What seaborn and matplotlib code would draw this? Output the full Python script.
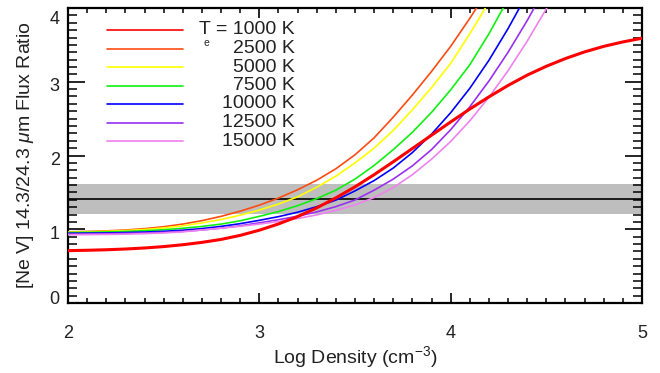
import numpy as np
import pandas as pd
import matplotlib
matplotlib.use("Agg")
import matplotlib.pyplot as plt
import matplotlib.image as mimg
import matplotlib.transforms as mtrans
from matplotlib.ticker import MultipleLocator, FixedLocator
import seaborn as sns

# ---------------- data ----------------
log_density = [2.0, 2.1, 2.2, 2.3, 2.4, 2.5, 2.6, 2.7, 2.8, 2.9, 3.0, 3.1, 3.2, 3.3, 3.4,
               3.5, 3.6, 3.7, 3.8, 3.9, 4.0, 4.1, 4.2, 4.3, 4.4, 4.5, 4.6, 4.7, 4.8, 4.9, 5.0]

temps = ["1000", "2500", "5000", "7500", "10000", "12500", "15000"]

ratio_1000 = [0.71, 0.715, 0.722, 0.732, 0.746, 0.765, 0.790, 0.822, 0.862, 0.917, 0.987,
              1.072, 1.172, 1.29, 1.425, 1.575, 1.74, 1.915, 2.095, 2.275, 2.455, 2.63,
              2.795, 2.95, 3.09, 3.21, 3.315, 3.405, 3.48, 3.54, 3.59]
ratio_2500 = [0.965, 0.970, 0.978, 0.990, 1.008, 1.034, 1.070, 1.117, 1.175, 1.245, 1.327,
              1.423, 1.535, 1.665, 1.82, 2.01, 2.24, 2.52, 2.82, 3.14, 3.48, 3.86, 4.26]
ratio_5000 = [0.96, 0.965, 0.972, 0.982, 0.997, 1.018, 1.047, 1.085, 1.133, 1.191, 1.260,
              1.342, 1.439, 1.57, 1.72, 1.90, 2.10, 2.34, 2.62, 2.92, 3.25, 3.65, 4.08, 4.55]
ratio_7500 = [0.955, 0.958, 0.963, 0.970, 0.980, 0.994, 1.013, 1.038, 1.070, 1.115, 1.175,
              1.240, 1.32, 1.415, 1.53, 1.68, 1.865, 2.08, 2.315, 2.585, 2.89, 3.23, 3.65, 4.12]
ratio_10000 = [0.945, 0.947, 0.950, 0.955, 0.962, 0.972, 0.987, 1.009, 1.039, 1.076, 1.121,
               1.171, 1.231, 1.306, 1.395, 1.52, 1.66, 1.83, 2.04, 2.29, 2.58, 2.911, 3.291,
               3.721, 4.191]
ratio_12500 = [0.935, 0.937, 0.940, 0.944, 0.950, 0.958, 0.971, 0.990, 1.015, 1.047, 1.087,
               1.129, 1.177, 1.235, 1.307, 1.397, 1.53, 1.68, 1.86, 2.08, 2.35, 2.66, 3.01,
               3.40, 3.83, 4.30]
ratio_15000 = [0.925, 0.927, 0.93, 0.934, 0.94, 0.95, 0.965, 0.99, 1.015, 1.04, 1.07, 1.105,
               1.145, 1.195, 1.255, 1.33, 1.43, 1.565, 1.74, 1.95, 2.19, 2.47, 2.79, 3.15,
               3.55, 3.99, 4.46]

series = [ratio_1000, ratio_2500, ratio_5000, ratio_7500, ratio_10000, ratio_12500, ratio_15000]
colors = ["#ff0000", "#ff4a10", "#ffff00", "#10f010", "#0000ff", "#9a30f0", "#ee82ee"]

observed_ratio = 1.41
observed_low = 1.21
observed_high = 1.61

x_ticks = [2, 3, 4, 5]
y_ticks = [0, 1, 2, 3, 4]
legend_labels = ["T = 1000 K", "2500 K", "5000 K", "7500 K", "10000 K", "12500 K", "15000 K"]

# ---------------- build table ----------------
rows = []
for t, vals in zip(temps, series):
    for xv, yv in zip(log_density, vals):
        rows.append({"logn": xv, "ratio": yv, "T": t})
df = pd.DataFrame(rows)

txt_color = "#222222"
fs = 14

sns.set_theme(style="white")
plt.rcParams.update({
    "font.family": ["Liberation Sans", "DejaVu Sans"],
    "mathtext.fontset": "custom",
    "mathtext.rm": "Liberation Sans",
    "mathtext.it": "Liberation Sans:italic",
    "axes.axisbelow": False,
    "axes.linewidth": 1.6,
    "axes.edgecolor": "black",
    "xtick.direction": "in", "ytick.direction": "in",
    "xtick.top": True, "xtick.bottom": True, "ytick.left": True, "ytick.right": True,
    "xtick.major.size": 7, "xtick.minor.size": 3.6,
    "ytick.major.size": 12.5, "ytick.minor.size": 6.5,
    "xtick.major.width": 1.2, "xtick.minor.width": 1.1,
    "ytick.major.width": 1.2, "ytick.minor.width": 1.1,
    "xtick.major.pad": 16, "ytick.major.pad": 6,
    "xtick.color": "black", "ytick.color": "black",
    "xtick.labelcolor": txt_color, "ytick.labelcolor": txt_color,
    "xtick.labelsize": 13, "ytick.labelsize": 13,
    "xtick.minor.visible": True, "ytick.minor.visible": True,
})

fig = plt.figure(figsize=(6.6, 3.73), dpi=100)
ax = fig.add_axes([68 / 660, 1 - 303 / 373, 574 / 660, 295 / 373])

ax.axhspan(observed_low, observed_high, color="#bebebe", lw=0, zorder=1)
ax.axhline(observed_ratio, color="black", lw=1.2, zorder=2)

pal = dict(zip(temps, colors))
sns.lineplot(data=df[df["T"] != "1000"], x="logn", y="ratio", hue="T", hue_order=temps[1:],
             palette=pal, lw=1.2, legend=False, ax=ax, zorder=3)
sns.lineplot(data=df[df["T"] == "1000"], x="logn", y="ratio", color=colors[0],
             lw=2.2, legend=False, ax=ax, zorder=4)

ax.set_xlim(2, 5)
ax.set_ylim(0, 4)
ax.xaxis.set_major_locator(FixedLocator(x_ticks))
ax.xaxis.set_minor_locator(MultipleLocator(0.1))
ax.yaxis.set_major_locator(FixedLocator(y_ticks))
ax.yaxis.set_minor_locator(MultipleLocator(0.1))

ax.set_xlabel(r"Log Density (cm$^{\mathregular{-3}}$)", fontsize=fs, color=txt_color)
ax.set_ylabel(r"[Ne V] 14.3/24.3 $\mu$m Flux Ratio", fontsize=fs, color=txt_color)
ax.xaxis.set_label_coords(0.5, -0.14)
ax.yaxis.set_label_coords(-0.055, 0.5)

# legend (manual, right-aligned labels)
row0 = (303 - 30) / 295
step = 18.5 / 295
for i, (lab, c) in enumerate(zip(legend_labels, colors)):
    yy = row0 - i * step
    ax.plot([0.068, 0.200], [yy, yy], transform=ax.transAxes, color=c, lw=1.2, zorder=5)
    ax.text(0.395, yy, lab, transform=ax.transAxes, ha="right", va="center",
            fontsize=fs, color=txt_color, zorder=5)
ax.text(0.242, (303 - 43) / 295, "e", transform=ax.transAxes, ha="center", va="center",
        fontsize=7.5, color=txt_color)

# shift y tick labels like the reference
offsets = {0: 5, 1: -3, 2: -3, 3: -3, 4: -9}
for lab, val in zip(ax.get_yticklabels(), y_ticks):
    off = mtrans.ScaledTranslation(0, offsets[val] / 100.0, fig.dpi_scale_trans)
    lab.set_transform(lab.get_transform() + off)

fig.savefig("out.png", dpi=100)

# ---- make sure the inward ticks really show; if not, draw them on the axis frame ----
img = mimg.imread("out.png")
H = img.shape[0]
px, py = ax.transData.transform((3, 0))
r, cidx = int(round(H - py - 5)), int(round(px))
patch = img[r - 1:r + 2, cidx - 1:cidx + 2, :3]
if patch.min() > 0.4:
    ax_h_pt = ax.get_position().height * fig.get_figheight() * 72
    ax_w_pt = ax.get_position().width * fig.get_figwidth() * 72
    xminor = [v for v in np.round(np.arange(2, 5.0001, 0.1), 1) if v not in x_ticks]
    yminor = [v for v in np.round(np.arange(0, 4.0001, 0.1), 1) if v not in y_ticks]
    xt = ax.get_xaxis_transform()
    yt = ax.get_yaxis_transform()
    for locs, ln, lw in ((x_ticks, 7, 1.2), (xminor, 3.6, 1.1)):
        f = ln / ax_h_pt
        ax.vlines(locs, 0, f, transform=xt, colors="black", lw=lw, zorder=6, clip_on=False)
        ax.vlines(locs, 1 - f, 1, transform=xt, colors="black", lw=lw, zorder=6, clip_on=False)
    for locs, ln, lw in ((y_ticks, 12.5, 1.2), (yminor, 6.5, 1.1)):
        f = ln / ax_w_pt
        ax.hlines(locs, 0, f, transform=yt, colors="black", lw=lw, zorder=6, clip_on=False)
        ax.hlines(locs, 1 - f, 1, transform=yt, colors="black", lw=lw, zorder=6, clip_on=False)
    fig.savefig("out.png", dpi=100)
